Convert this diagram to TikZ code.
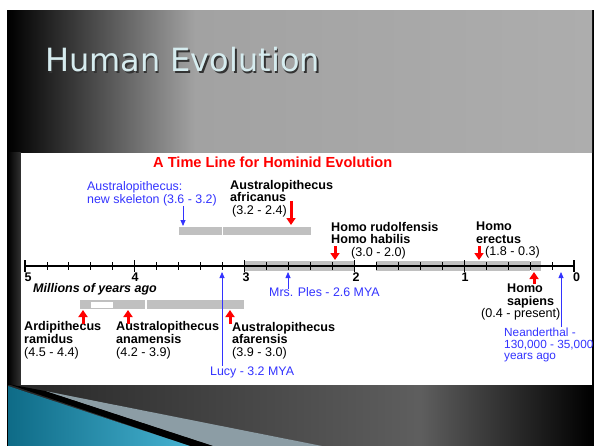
\documentclass[tikz,border=0pt]{standalone}
\usepackage{fontspec}
\setmainfont{Liberation Sans}
\newfontfamily\slidefont{DejaVu Sans}
\usetikzlibrary{arrows.meta}

\definecolor{timeblue}{HTML}{3333FF}
\definecolor{timered}{HTML}{FF0000}
\definecolor{barcol}{HTML}{C0C0C0}
\definecolor{topgray}{HTML}{A2A2A2}
\definecolor{topgraytwo}{HTML}{ADADAD}
\definecolor{titlecol}{HTML}{D6ECEF}
\definecolor{tealdark}{HTML}{0E6B87}
\definecolor{teallight}{HTML}{46B2D1}
\definecolor{meshcol}{HTML}{8C9DA5}

\tikzset{
  bluetext/.style={text=timeblue, font=\fontsize{12.4}{13}\selectfont, inner sep=0pt, align=left},
  hominid/.style={font=\fontsize{12.6}{12.5}\selectfont, inner sep=0pt, align=left, anchor=north west},
  yearnum/.style={font=\bfseries\fontsize{12.5}{12.5}\selectfont, inner sep=0pt, anchor=base},
  redarrow/.style={draw=timered, line width=3pt, -{Triangle[width=9pt,length=7pt]}},
  bluearrow/.style={draw=timeblue, line width=0.8pt, -{Triangle[width=5pt,length=6pt]}},
  graybar/.style={fill=barcol, draw=none}
}

\begin{document}
\begin{tikzpicture}[x=1pt, y=-1pt]
  \useasboundingbox (0,0) rectangle (596,446);
  \fill[white] (0,0) rectangle (596,446);

  \fill[black] (7,10) rectangle (594,446);
  \shade[left color=black, right color=topgray] (8,11) rectangle (195,153);
  \shade[left color=topgray, right color=topgraytwo] (195,11) rectangle (592,153);
  \shade[left color=black, right color=black!80] (8,153) rectangle (21,385);
  \shade[left color=black!85, right color=black!63] (8,385) rectangle (420,446);
  \shade[left color=black!63, right color=black] (420,385) rectangle (592,446);

  \fill[meshcol] (45,391) -- (322,446) -- (213,446) -- cycle;
  \fill[black] (8,384) -- (45,391) -- (213,446) -- (190,446) -- cycle;
  \shade[left color=tealdark, right color=teallight] (8,386) -- (190,446) -- (8,446) -- cycle;

  \node[text=black!80, font=\slidefont\fontsize{32}{32}\selectfont, anchor=base west, inner sep=0pt] (title shadow) at (46.5,73.5) {Human Evolution};
  \node[text=titlecol, font=\slidefont\fontsize{32}{32}\selectfont, anchor=base west, inner sep=0pt] (slide title) at (45,72) {Human Evolution};

  \fill[white] (21,153) rectangle (592,385);

  \node[text=timered, font=\bfseries\fontsize{14.6}{14.6}\selectfont, anchor=base west, inner sep=0pt] (timeline title) at (153,168) {A Time Line for Hominid Evolution};

  \fill[graybar] (244,261) rectangle (354,271);
  \fill[graybar] (376,261) rectangle (541,271);
  \draw[white, line width=1pt] (530,261) -- (530,271);

  \coordinate (axis start) at (25,266);
  \coordinate (axis end) at (574,266);
  \draw[black, line width=2.4pt] (axis start) -- (axis end);
  \foreach \k in {1,...,24}
    \draw[black, line width=0.9pt] ({574-21.96*\k},262) -- ({574-21.96*\k},270);
  \foreach \m in {0,...,5}
    \draw[black, line width=1.2pt] ({574-109.8*\m},260) -- ({574-109.8*\m},272);
  \node[yearnum, anchor=base west] (year five) at (24.5,281) {5};
  \node[yearnum] (year four) at (135,281) {4};
  \node[yearnum] (year three) at (246,281) {3};
  \node[yearnum] (year two) at (356,281) {2};
  \node[yearnum] (year one) at (465,281) {1};
  \node[yearnum, anchor=base west] (year zero) at (573,281) {0};

  \node[font=\bfseries\itshape\fontsize{12.5}{12.5}\selectfont, anchor=base west, inner sep=0pt] (axis caption) at (33,292) {Millions of years ago};

  \fill[graybar] (179,227) rectangle (311,235);
  \draw[white, line width=1.2pt] (222.5,227) -- (222.5,235);

  \fill[graybar] (80,300) rectangle (244,309);
  \fill[white] (91,301.5) rectangle (113,307.5);
  \draw[white, line width=1.2pt] (146,300) -- (146,309);

  \node[bluetext, anchor=north west] (new skeleton) at (87,181) {Australopithecus:\\new skeleton (3.6 - 3.2)};
  \coordinate (skeleton foot) at (183,206);
  \coordinate (skeleton tip) at (183,226);
  \draw[bluearrow] (skeleton foot) -- (skeleton tip);

  \node[hominid] (africanus) at (230,180) {\textbf{Australopithecus}\\\textbf{africanus}\\\hspace*{2pt}(3.2 - 2.4)};
  \coordinate (africanus foot) at (291,201);
  \coordinate (africanus tip) at (291,225);
  \draw[redarrow] (africanus foot) -- (africanus tip);

  \node[hominid] (habilis) at (331,222) {\textbf{Homo rudolfensis}\\\textbf{Homo habilis}\\\hspace*{20pt}(3.0 - 2.0)};
  \coordinate (habilis foot) at (335,246);
  \coordinate (habilis tip) at (335,260);
  \draw[redarrow] (habilis foot) -- (habilis tip);

  \node[hominid] (erectus) at (476,222) {\textbf{Homo}\\\textbf{erectus}\\\hspace*{9pt}(1.8 - 0.3)};
  \coordinate (erectus foot) at (479,246);
  \coordinate (erectus tip) at (479,260);
  \draw[redarrow] (erectus foot) -- (erectus tip);

  \node[hominid] (sapiens) at (481,284) {\hspace*{26pt}\textbf{Homo}\\\hspace*{26pt}\textbf{sapiens}\\(0.4 - present)};
  \coordinate (sapiens foot) at (534,284);
  \coordinate (sapiens tip) at (534,272);
  \draw[redarrow] (sapiens foot) -- (sapiens tip);

  \node[bluetext, anchor=base west] (ples) at (269,296) {Mrs. Ples - 2.6 MYA};
  \coordinate (ples foot) at (288,289);
  \coordinate (ples tip) at (288,272);
  \draw[bluearrow] (ples foot) -- (ples tip);

  \node[bluetext, anchor=base west] (lucy) at (210,375) {Lucy - 3.2 MYA};
  \coordinate (lucy foot) at (222,366);
  \coordinate (lucy tip) at (222,272);
  \draw[bluearrow] (lucy foot) -- (lucy tip);

  \node[bluetext, anchor=north west, font=\fontsize{11.8}{11.5}\selectfont] (neanderthal) at (504,328) {Neanderthal -\\130,000 - 35,000\\years ago};
  \coordinate (neanderthal foot) at (561,327);
  \coordinate (neanderthal tip) at (561,272);
  \draw[bluearrow] (neanderthal foot) -- (neanderthal tip);

  \node[hominid, font=\fontsize{12.6}{13}\selectfont] (ramidus) at (24,321) {\textbf{Ardipithecus}\\\textbf{ramidus}\\(4.5 - 4.4)};
  \node[hominid, font=\fontsize{12.6}{13}\selectfont] (anamensis) at (116,321) {\textbf{Australopithecus}\\\textbf{anamensis}\\(4.2 - 3.9)};
  \node[hominid, font=\fontsize{12.6}{12.5}\selectfont] (afarensis) at (232,322) {\textbf{Australopithecus}\\\textbf{afarensis}\\(3.9 - 3.0)};
  \foreach \x/\n in {83/ramidus, 128/anamensis, 230/afarensis} {
    \coordinate (\n\space foot) at (\x,324);
    \coordinate (\n\space tip) at (\x,310);
    \draw[redarrow] (\n\space foot) -- (\n\space tip);
  }
\end{tikzpicture}
\end{document}
